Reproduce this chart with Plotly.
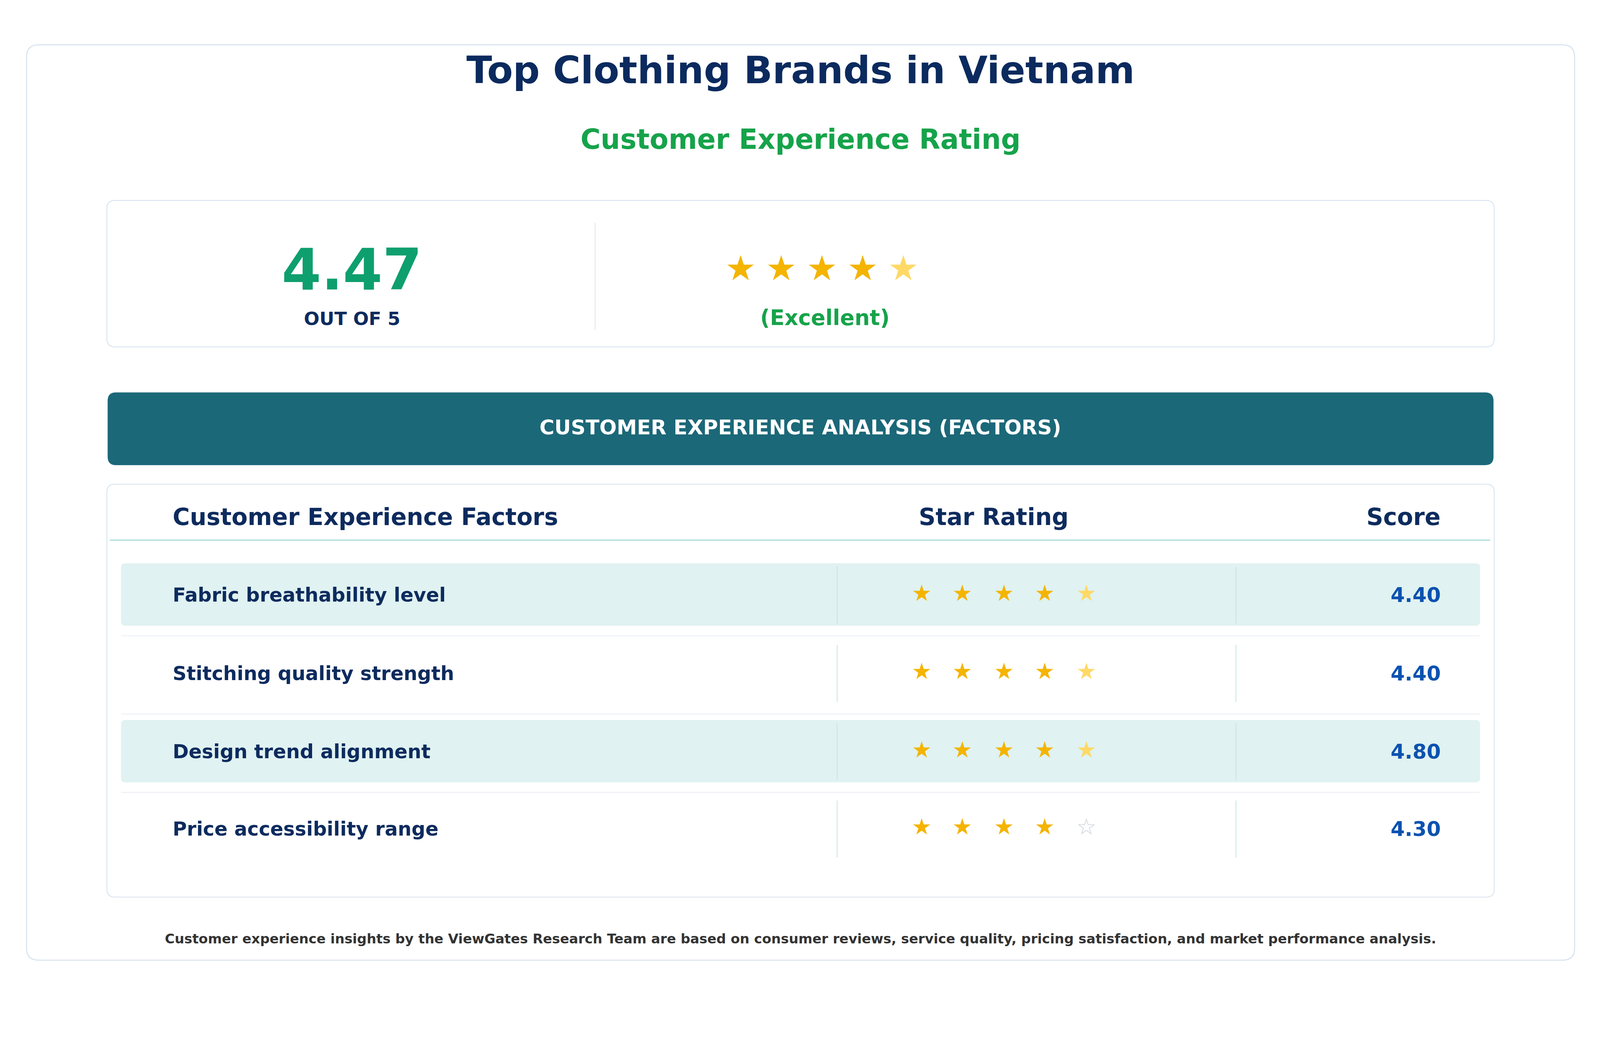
import plotly.graph_objects as go

# ---- data ----
factors = ["Fabric breathability level", "Stitching quality strength", "Design trend alignment", "Price accessibility range"]
scores = [4.40, 4.40, 4.80, 4.30]
full_stars = [4, 4, 4, 4]
half_stars = [1, 1, 1, 0]
overall_score = 4.47
overall_full = 4
overall_half = 1
title = "Top Clothing Brands in Vietnam"
subtitle = "Customer Experience Rating"
rating_label = "(Excellent)"
banner = "CUSTOMER EXPERIENCE ANALYSIS (FACTORS)"
headers = ["Customer Experience Factors", "Star Rating", "Score"]
footer = ("Customer experience insights by the ViewGates Research Team are based on consumer reviews, "
          "service quality, pricing satisfaction, and market performance analysis.")

W, H = 1636, 1025.5
S = 4260 / W
FONT = "DejaVu Sans"
NAVY = "#0D2B5E"

def fs(px):
    return px * S

def rrect(x0, y0, x1, y1, r):
    return (f"M{x0+r},{y0} L{x1-r},{y0} Q{x1},{y0} {x1},{y0+r} L{x1},{y1-r} Q{x1},{y1} {x1-r},{y1} "
            f"L{x0+r},{y1} Q{x0},{y1} {x0},{y1-r} L{x0},{y0+r} Q{x0},{y0} {x0+r},{y0} Z")

shapes = []
ann = []

def box(x0, y0, x1, y1, r, fill, line, lw=1.5):
    shapes.append(dict(type="path", path=rrect(x0, y0, x1, y1, r), fillcolor=fill,
                       line=dict(color=line, width=lw * S / 2), layer="below"))

def line(x0, y0, x1, y1, color, w):
    shapes.append(dict(type="line", x0=x0, y0=y0, x1=x1, y1=y1, line=dict(color=color, width=w * S / 2), layer="below"))

def text(x, y, t, size, color, anchor="center", bold=True):
    ann.append(dict(x=x, y=y, text=f"<b>{t}</b>" if bold else t, showarrow=False, xanchor=anchor, yanchor="middle",
                    font=dict(family=FONT, size=fs(size), color=color)))

box(23, 41, 1545, 941, 12, "white", "#D6E2EE", 2)
text(784, 66, title, 37, "#0B2A5E")
text(784, 134, subtitle, 27, "#16A34A")

box(102, 194, 1466, 338, 8, "white", "#D6E2EE", 1.6)
line(582, 216, 582, 321, "#DDE5EE", 1.5)
text(343, 262, f"{overall_score:.2f}", 56, "#0E9F6E")
text(343, 310, "OUT OF 5", 18, NAVY)
text(808, 309, rating_label, 21, "#16A34A")

box(103, 383, 1465, 454, 8, "#1B6878", "#1B6878", 1)
text(784, 417, banner, 20, "white")

box(102, 473, 1466, 879, 8, "white", "#D6E2EE", 1.6)
text(166, 505, headers[0], 23, NAVY, "left")
text(974, 505, headers[1], 23, NAVY)
text(1414, 505, headers[2], 23, NAVY, "right")
line(105, 528, 1462, 528, "#A8DCD9", 2.2)

row_y = [582, 659, 736, 812]
star_x = [903, 943, 984, 1024, 1065]
for i, (f, sc) in enumerate(zip(factors, scores)):
    y = row_y[i]
    if i % 2 == 0:
        box(116, y - 31, 1452, y + 30, 4, "#E0F2F1", "#E0F2F1", 0.5)
    if i < len(factors) - 1:
        line(116, y + 40, 1452, y + 40, "#EDF2F7", 2)
    line(820, y - 28, 820, y + 28, "#C5E4E1", 1.5)
    line(1212, y - 28, 1212, y + 28, "#C5E4E1", 1.5)
    text(166, y, f, 19, NAVY, "left")
    text(1414, y, f"{sc:.2f}", 20, "#0B52B0", "right")

text(784, 920, footer, 13.2, "#333333")

fig = go.Figure()

def stars_trace(xs, y, nfull, nhalf, size):
    syms, cols = [], []
    for k in range(len(xs)):
        if k < nfull:
            syms.append("★"); cols.append("#F4B400")
        elif k < nfull + nhalf:
            syms.append("★"); cols.append("#FFD966")
        else:
            syms.append("☆"); cols.append("#CDD3DB")
    fig.add_trace(go.Scatter(x=xs, y=[y] * len(xs), mode="text", text=syms,
                             textfont=dict(family=FONT, size=fs(size), color=cols),
                             textposition="middle center", hoverinfo="skip", showlegend=False))

stars_trace([725, 765, 805, 845, 885], 264, overall_full, overall_half, 34)
for i in range(len(factors)):
    stars_trace(star_x, row_y[i], full_stars[i], half_stars[i], 22)

fig.update_layout(width=4260, height=2670, margin=dict(l=0, r=0, t=0, b=0),
                  paper_bgcolor="white", plot_bgcolor="white", shapes=shapes, annotations=ann,
                  xaxis=dict(range=[0, W], visible=False, fixedrange=True),
                  yaxis=dict(range=[H, 0], visible=False, fixedrange=True))
fig.write_html("out.html")
